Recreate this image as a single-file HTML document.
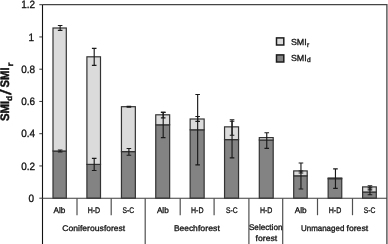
<!DOCTYPE html>
<html><head><meta charset="utf-8"><title>chart</title>
<style>html,body{margin:0;padding:0;background:#fff;overflow:hidden}body{width:388px;height:244px;position:relative}</style>
</head><body>
<svg width="388" height="244" viewBox="0 0 388 244" text-rendering="geometricPrecision" style="position:absolute;left:0;top:0">
<path d="M42.5 4.7 H386.9 V244" fill="none" stroke="#454545" stroke-width="1.3"/>
<rect x="53.00" y="151.00" width="13.3" height="47.20" fill="#838383" stroke="#333333" stroke-width="1.2"/>
<rect x="53.00" y="28.00" width="13.3" height="123.00" fill="#dbdbdb" stroke="#333333" stroke-width="1.2"/>
<rect x="86.90" y="164.40" width="13.6" height="33.80" fill="#838383" stroke="#333333" stroke-width="1.2"/>
<rect x="86.90" y="56.80" width="13.6" height="107.60" fill="#dbdbdb" stroke="#333333" stroke-width="1.2"/>
<rect x="121.45" y="151.60" width="13.9" height="46.60" fill="#838383" stroke="#333333" stroke-width="1.2"/>
<rect x="121.45" y="106.70" width="13.9" height="44.90" fill="#dbdbdb" stroke="#333333" stroke-width="1.2"/>
<rect x="155.75" y="124.80" width="13.9" height="73.40" fill="#838383" stroke="#333333" stroke-width="1.2"/>
<rect x="155.75" y="114.80" width="13.9" height="10.00" fill="#dbdbdb" stroke="#333333" stroke-width="1.2"/>
<rect x="190.15" y="129.80" width="14.0" height="68.40" fill="#838383" stroke="#333333" stroke-width="1.2"/>
<rect x="190.15" y="119.00" width="14.0" height="10.80" fill="#dbdbdb" stroke="#333333" stroke-width="1.2"/>
<rect x="224.55" y="139.60" width="14.0" height="58.60" fill="#838383" stroke="#333333" stroke-width="1.2"/>
<rect x="224.55" y="126.85" width="14.0" height="12.75" fill="#dbdbdb" stroke="#333333" stroke-width="1.2"/>
<rect x="259.30" y="140.00" width="13.9" height="58.20" fill="#838383" stroke="#333333" stroke-width="1.2"/>
<rect x="259.30" y="137.60" width="13.9" height="2.40" fill="#dbdbdb" stroke="#333333" stroke-width="1.2"/>
<rect x="293.70" y="175.80" width="13.5" height="22.40" fill="#838383" stroke="#333333" stroke-width="1.2"/>
<rect x="293.70" y="170.90" width="13.5" height="4.90" fill="#dbdbdb" stroke="#333333" stroke-width="1.2"/>
<rect x="328.15" y="178.70" width="13.6" height="19.50" fill="#838383" stroke="#333333" stroke-width="1.2"/>
<rect x="328.15" y="178.00" width="13.6" height="0.70" fill="#dbdbdb" stroke="#333333" stroke-width="1.2"/>
<rect x="362.60" y="192.00" width="13.7" height="6.20" fill="#838383" stroke="#333333" stroke-width="1.2"/>
<rect x="362.60" y="186.90" width="13.7" height="5.10" fill="#dbdbdb" stroke="#333333" stroke-width="1.2"/>
<path d="M60.15 25.5 V30.4 M57.85 25.5 h4.6 M57.85 30.4 h4.6" fill="none" stroke="#1a1a1a" stroke-width="1.15"/>
<path d="M94.20 48.4 V65.4 M91.90 48.4 h4.6 M91.90 65.4 h4.6" fill="none" stroke="#1a1a1a" stroke-width="1.15"/>
<path d="M128.90 106.2 V107.2 M126.60 106.2 h4.6 M126.60 107.2 h4.6" fill="none" stroke="#1a1a1a" stroke-width="1.15"/>
<path d="M163.20 112.4 V117.8 M160.90 112.4 h4.6 M160.90 117.8 h4.6" fill="none" stroke="#1a1a1a" stroke-width="1.15"/>
<path d="M197.65 116.5 V121.3 M195.35 116.5 h4.6 M195.35 121.3 h4.6" fill="none" stroke="#1a1a1a" stroke-width="1.15"/>
<path d="M232.05 119.7 V135.2 M229.75 119.7 h4.6 M229.75 135.2 h4.6" fill="none" stroke="#1a1a1a" stroke-width="1.15"/>
<path d="M300.95 171.0 V173.0 M298.65 171.0 h4.6 M298.65 173.0 h4.6" fill="none" stroke="#1a1a1a" stroke-width="1.15"/>
<path d="M369.95 185.7 V189.8 M367.65 185.7 h4.6 M367.65 189.8 h4.6" fill="none" stroke="#1a1a1a" stroke-width="1.15"/>
<path d="M60.15 150.0 V152.0 M57.85 150.0 h4.6 M57.85 152.0 h4.6" fill="none" stroke="#1a1a1a" stroke-width="1.15"/>
<path d="M94.20 158.3 V170.5 M91.90 158.3 h4.6 M91.90 170.5 h4.6" fill="none" stroke="#1a1a1a" stroke-width="1.15"/>
<path d="M128.90 148.5 V155.2 M126.60 148.5 h4.6 M126.60 155.2 h4.6" fill="none" stroke="#1a1a1a" stroke-width="1.15"/>
<path d="M163.20 112.3 V137.6 M160.90 112.3 h4.6 M160.90 137.6 h4.6" fill="none" stroke="#1a1a1a" stroke-width="1.15"/>
<path d="M197.65 94.5 V164.9 M195.35 94.5 h4.6 M195.35 164.9 h4.6" fill="none" stroke="#1a1a1a" stroke-width="1.15"/>
<path d="M232.05 121.2 V157.9 M229.75 121.2 h4.6 M229.75 157.9 h4.6" fill="none" stroke="#1a1a1a" stroke-width="1.15"/>
<path d="M266.75 132.7 V148.4 M264.45 132.7 h4.6 M264.45 148.4 h4.6" fill="none" stroke="#1a1a1a" stroke-width="1.15"/>
<path d="M300.95 163.0 V189.0 M298.65 163.0 h4.6 M298.65 189.0 h4.6" fill="none" stroke="#1a1a1a" stroke-width="1.15"/>
<path d="M335.45 168.9 V188.4 M333.15 168.9 h4.6 M333.15 188.4 h4.6" fill="none" stroke="#1a1a1a" stroke-width="1.15"/>
<path d="M369.95 187.9 V194.7 M367.65 187.9 h4.6 M367.65 194.7 h4.6" fill="none" stroke="#1a1a1a" stroke-width="1.15"/>
<path d="M42.5 4.7 V244" stroke="#111" stroke-width="1.1" fill="none"/>
<path d="M42.0 198.2 H386.9" stroke="#3c3c3c" stroke-width="1.05" fill="none"/>
<path d="M39.3 198.20 H42.5" stroke="#222" stroke-width="0.9"/>
<path d="M39.3 165.95 H42.5" stroke="#222" stroke-width="0.9"/>
<path d="M39.3 133.70 H42.5" stroke="#222" stroke-width="0.9"/>
<path d="M39.3 101.45 H42.5" stroke="#222" stroke-width="0.9"/>
<path d="M39.3 69.20 H42.5" stroke="#222" stroke-width="0.9"/>
<path d="M39.3 36.95 H42.5" stroke="#222" stroke-width="0.9"/>
<path d="M39.3 4.70 H42.5" stroke="#222" stroke-width="0.9"/>
<path d="M77.00 198.2 V215.2" stroke="#505050" stroke-width="1.2"/>
<path d="M111.20 198.2 V215.2" stroke="#505050" stroke-width="1.2"/>
<path d="M145.20 198.2 V244" stroke="#505050" stroke-width="1.2"/>
<path d="M180.20 198.2 V215.2" stroke="#505050" stroke-width="1.2"/>
<path d="M214.10 198.2 V215.2" stroke="#505050" stroke-width="1.2"/>
<path d="M248.90 198.2 V244" stroke="#505050" stroke-width="1.2"/>
<path d="M282.70 198.2 V244" stroke="#505050" stroke-width="1.2"/>
<path d="M317.50 198.2 V215.2" stroke="#505050" stroke-width="1.2"/>
<path d="M352.50 198.2 V215.2" stroke="#505050" stroke-width="1.2"/>
<rect x="276.5" y="37.9" width="7.3" height="7.1" fill="#dbdbdb" stroke="#1c1c1c" stroke-width="1.5"/>
<rect x="276.5" y="54.9" width="7.3" height="7.1" fill="#838383" stroke="#1c1c1c" stroke-width="1.5"/>
<text font-family="Liberation Sans, sans-serif" stroke="#111" stroke-width="0.3" font-size="8.8" fill="#111"><tspan x="290.9" y="44.9" textLength="15.9" lengthAdjust="spacingAndGlyphs">SMI</tspan><tspan x="306.9" y="46.7" font-size="6.6">r</tspan></text>
<text font-family="Liberation Sans, sans-serif" stroke="#111" stroke-width="0.3" font-size="8.8" fill="#111"><tspan x="290.9" y="60.6" textLength="15.9" lengthAdjust="spacingAndGlyphs">SMI</tspan><tspan x="306.9" y="62.4" font-size="6.6">d</tspan></text>
<text transform="translate(34.0 202.05) scale(0.94 1)" text-anchor="end" font-family="Liberation Sans, sans-serif" stroke="#111" stroke-width="0.32" font-size="10.6" fill="#111">0</text>
<text transform="translate(35.0 169.80) scale(0.94 1)" text-anchor="end" font-family="Liberation Sans, sans-serif" stroke="#111" stroke-width="0.32" font-size="10.6" fill="#111">0.2</text>
<text transform="translate(35.0 137.35) scale(0.94 1)" text-anchor="end" font-family="Liberation Sans, sans-serif" stroke="#111" stroke-width="0.32" font-size="10.6" fill="#111">0.4</text>
<text transform="translate(35.0 104.80) scale(0.94 1)" text-anchor="end" font-family="Liberation Sans, sans-serif" stroke="#111" stroke-width="0.32" font-size="10.6" fill="#111">0.6</text>
<text transform="translate(35.0 72.55) scale(0.94 1)" text-anchor="end" font-family="Liberation Sans, sans-serif" stroke="#111" stroke-width="0.32" font-size="10.6" fill="#111">0.8</text>
<text transform="translate(34.0 41.00) scale(0.94 1)" text-anchor="end" font-family="Liberation Sans, sans-serif" stroke="#111" stroke-width="0.32" font-size="10.6" fill="#111">1</text>
<text transform="translate(35.0 8.15) scale(0.94 1)" text-anchor="end" font-family="Liberation Sans, sans-serif" stroke="#111" stroke-width="0.32" font-size="10.6" fill="#111">1.2</text>
<text transform="translate(9.45 120.4) rotate(-90)" font-family="Liberation Sans, sans-serif" font-weight="bold" fill="#111" stroke="#111" stroke-width="0.4" font-size="12.4"><tspan x="-0.7" y="0" textLength="20.3" lengthAdjust="spacingAndGlyphs">SMI</tspan><tspan x="19.5" y="3.0" font-size="8" textLength="5.2" lengthAdjust="spacingAndGlyphs">d</tspan><tspan x="25.3" y="1.9" font-size="16" font-weight="normal" textLength="5.8" lengthAdjust="spacingAndGlyphs">/</tspan> <tspan x="32.9" y="0" textLength="20.1" lengthAdjust="spacingAndGlyphs">SMI</tspan><tspan x="53.9" y="3.1" font-size="8.4" textLength="4.0" lengthAdjust="spacingAndGlyphs">r</tspan></text>
<text x="59.52" y="212.8" text-anchor="middle" font-family="Liberation Sans, sans-serif" stroke="#111" stroke-width="0.3" font-size="8.2" fill="#111">Alb</text>
<text x="87.71" y="212.8" font-family="Liberation Sans, sans-serif" stroke="#111" stroke-width="0.3" font-size="8.2" fill="#111" textLength="12.5" lengthAdjust="spacingAndGlyphs">H-D</text>
<text x="122.60" y="212.8" font-family="Liberation Sans, sans-serif" stroke="#111" stroke-width="0.3" font-size="8.2" fill="#111" textLength="11.6" lengthAdjust="spacingAndGlyphs">S-C</text>
<text x="162.84" y="212.8" text-anchor="middle" font-family="Liberation Sans, sans-serif" stroke="#111" stroke-width="0.3" font-size="8.2" fill="#111">Alb</text>
<text x="191.03" y="212.8" font-family="Liberation Sans, sans-serif" stroke="#111" stroke-width="0.3" font-size="8.2" fill="#111" textLength="12.5" lengthAdjust="spacingAndGlyphs">H-D</text>
<text x="225.92" y="212.8" font-family="Liberation Sans, sans-serif" stroke="#111" stroke-width="0.3" font-size="8.2" fill="#111" textLength="11.6" lengthAdjust="spacingAndGlyphs">S-C</text>
<text x="259.91" y="212.8" font-family="Liberation Sans, sans-serif" stroke="#111" stroke-width="0.3" font-size="8.2" fill="#111" textLength="12.5" lengthAdjust="spacingAndGlyphs">H-D</text>
<text x="300.60" y="212.8" text-anchor="middle" font-family="Liberation Sans, sans-serif" stroke="#111" stroke-width="0.3" font-size="8.2" fill="#111">Alb</text>
<text x="328.79" y="212.8" font-family="Liberation Sans, sans-serif" stroke="#111" stroke-width="0.3" font-size="8.2" fill="#111" textLength="12.5" lengthAdjust="spacingAndGlyphs">H-D</text>
<text x="363.68" y="212.8" font-family="Liberation Sans, sans-serif" stroke="#111" stroke-width="0.3" font-size="8.2" fill="#111" textLength="11.6" lengthAdjust="spacingAndGlyphs">S-C</text>
<text font-family="Liberation Sans, sans-serif" stroke="#111" stroke-width="0.3" font-size="8.2" fill="#111"><tspan x="62.3" y="230.6" textLength="41.4" lengthAdjust="spacingAndGlyphs">Coniferous</tspan> <tspan x="104.0" y="230.6" textLength="21.0" lengthAdjust="spacingAndGlyphs">forest</tspan></text>
<text font-family="Liberation Sans, sans-serif" stroke="#111" stroke-width="0.3" font-size="8.2" fill="#111"><tspan x="173.9" y="230.6" textLength="23.9" lengthAdjust="spacingAndGlyphs">Beech</tspan> <tspan x="197.9" y="230.6" textLength="22.0" lengthAdjust="spacingAndGlyphs">forest</tspan></text>
<text font-family="Liberation Sans, sans-serif" stroke="#111" stroke-width="0.3" font-size="8.2" fill="#111"><tspan x="301.0" y="230.6" textLength="43.3" lengthAdjust="spacingAndGlyphs">Unmanaged</tspan> <tspan x="346.5" y="230.6" textLength="21.7" lengthAdjust="spacingAndGlyphs">forest</tspan></text>
<text font-family="Liberation Sans, sans-serif" stroke="#111" stroke-width="0.3" font-size="8.2" fill="#111"><tspan x="248.9" y="230.1" textLength="33.6" lengthAdjust="spacingAndGlyphs">Selection</tspan> <tspan x="255.6" y="241.0" textLength="21.6" lengthAdjust="spacingAndGlyphs">forest</tspan></text>
</svg>
</body></html>
